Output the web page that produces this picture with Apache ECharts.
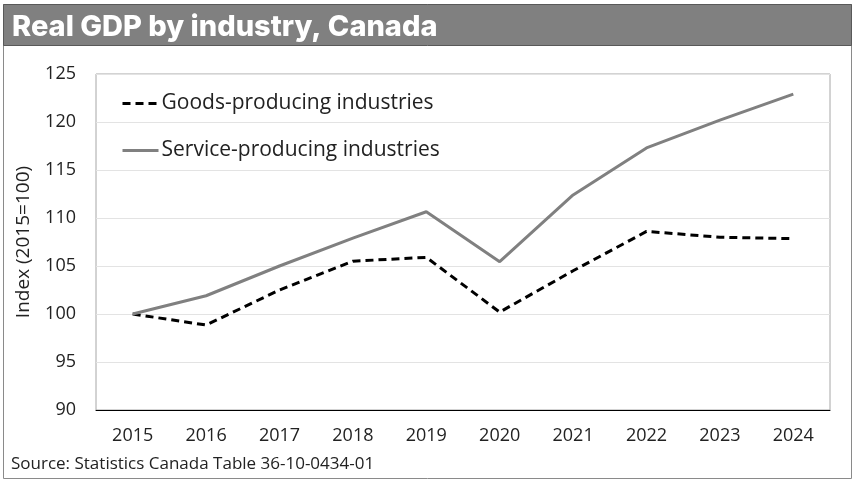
<!DOCTYPE html>
<html><head><meta charset="utf-8">
<script src="https://cdn.jsdelivr.net/npm/echarts@6/dist/echarts.min.js"></script>
<style>html,body{margin:0;padding:0;background:#fff}#c{width:853px;height:480px}</style>
</head><body><div id="c"></div>
<script>
const years = ['2015','2016','2017','2018','2019','2020','2021','2022','2023','2024'];
const goods = [100, 98.85, 102.5, 105.5, 105.9, 100.2, 104.5, 108.6, 108.0, 107.85];
const services = [100, 101.9, 105.0, 107.9, 110.65, 105.45, 112.4, 117.3, 120.2, 122.9];
const yTicks = {min: 90, max: 125, interval: 5};

const chart = echarts.init(document.getElementById('c'));
const F = '"Open Sans", sans-serif';
chart.setOption({
  animation: false,
  graphic: [
    {type:'rect', shape:{x:3.5,y:4.5,width:848,height:474}, style:{fill:'none', stroke:'#8a8a8a', lineWidth:1}, z:0},
    {type:'rect', shape:{x:3.5,y:4.5,width:848,height:41}, style:{fill:'#808080', stroke:'#595959', lineWidth:1}, z:1},
    {type:'text', left:12, top:13, style:{text:'Real GDP by industry, Canada', fill:'#fff', font:'800 29px Inter, sans-serif'}, z:2},
    {type:'text', left:11, top:456, style:{text:'Source: Statistics Canada Table 36-10-0434-01', fill:'#222', font:'17px ' + F}, z:2}
  ],
  grid: {left:96, right:23, top:74, bottom:70, show:true, borderColor:'#a6a6a6', borderWidth:1, containLabel:false},
  legend: {
    orient:'vertical', left:116, top:88, itemWidth:36, itemHeight:14, itemGap:26,
    itemStyle:{opacity:0},
    lineStyle:{width:3},
    textStyle:{fontFamily:F, fontSize:21, color:'#222', padding:[0,0,0,-2]},
    data:['Goods-producing industries','Service-producing industries']
  },
  xAxis: {
    type:'category', data: years, boundaryGap:true,
    axisLine:{lineStyle:{color:'#000', width:1}},
    axisTick:{alignWithLabel:true, length:5, lineStyle:{color:'#000'}},
    axisLabel:{fontFamily:F, fontSize:18, color:'#222', margin:17}
  },
  yAxis: {
    type:'value', min:yTicks.min, max:yTicks.max, interval:yTicks.interval,
    name:'Index (2015=100)', nameLocation:'middle', nameRotate:90, nameGap:63,
    nameTextStyle:{fontFamily:F, fontSize:19, color:'#222'},
    axisLine:{show:false}, axisTick:{show:false},
    axisLabel:{fontFamily:F, fontSize:18, color:'#222', margin:20},
    splitLine:{lineStyle:{color:'#e3e3e3', width:1}}
  },
  series: [
    {name:'Goods-producing industries', type:'line', data: goods, symbol:'none',
     lineStyle:{color:'#000', width:3, type:[8,5]}, itemStyle:{color:'#000'}},
    {name:'Service-producing industries', type:'line', data: services, symbol:'none',
     lineStyle:{color:'#808080', width:3}, itemStyle:{color:'#808080'}}
  ]
});
</script></body></html>
